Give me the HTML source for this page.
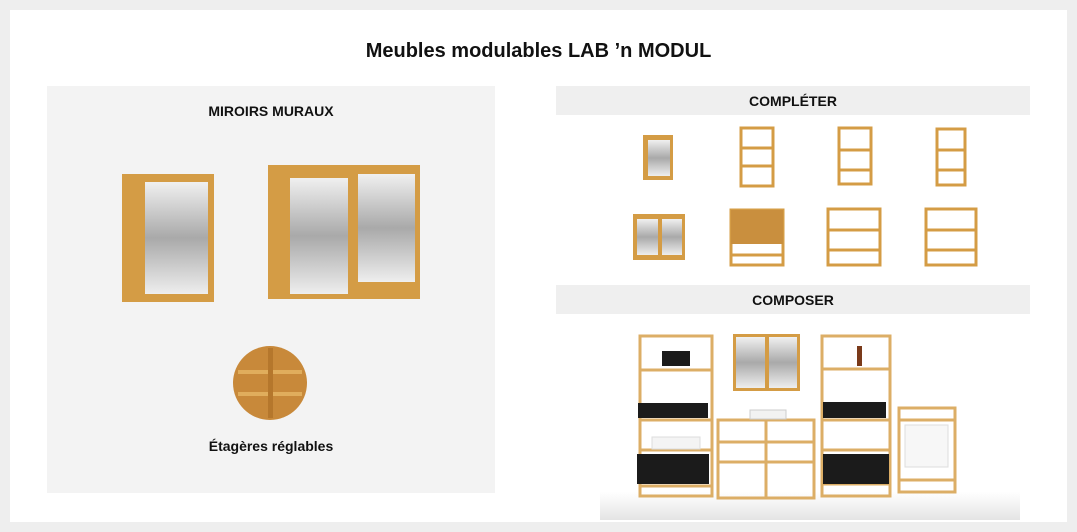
<!DOCTYPE html>
<html><head><meta charset="utf-8"><style>
body{margin:0;width:1077px;height:532px;background:#eeeeee;font-family:"Liberation Sans",sans-serif;overflow:hidden}
.card{position:absolute;left:10px;top:10px;width:1057px;height:512px;background:#fff}
.t{position:absolute;font-weight:bold;color:#111;text-align:center}
</style></head><body>
<div class="card"></div>
<div class="t" style="left:0;width:1077px;top:40px;font-size:20px">Meubles modulables LAB ’n MODUL</div>
<div style="position:absolute;left:47px;top:86px;width:448px;height:407px;background:#f3f3f3"></div>
<div class="t" style="left:47px;width:448px;top:103px;font-size:14px">MIROIRS MURAUX</div>
<div class="t" style="left:47px;width:448px;top:438px;font-size:14px">Étagères réglables</div>
<div style="position:absolute;left:556px;top:86px;width:474px;height:29px;background:#efefef"></div>
<div class="t" style="left:556px;width:474px;top:93px;font-size:14px">COMPLÉTER</div>
<div style="position:absolute;left:556px;top:285px;width:474px;height:29px;background:#efefef"></div>
<div class="t" style="left:556px;width:474px;top:292px;font-size:14px">COMPOSER</div>
<svg width="1077" height="532" style="position:absolute;left:0;top:0">
<defs>
<linearGradient id="m" x1="0" y1="0" x2="0" y2="1"><stop offset="0" stop-color="#f0f0f0"/><stop offset=".5" stop-color="#a9a9a9"/><stop offset="1" stop-color="#eeeeee"/></linearGradient>
<linearGradient id="fl" x1="0" y1="0" x2="0" y2="1"><stop offset="0" stop-color="#fff"/><stop offset="1" stop-color="#e4e4e4"/></linearGradient>
</defs>
<g fill="#d49c45">
<!-- small cabinet -->
<rect x="122" y="174" width="92" height="128"/>
<rect x="145" y="182" width="63" height="112" fill="url(#m)"/>
<!-- big cabinet -->
<rect x="268" y="165" width="152" height="134"/>
<rect x="290" y="178" width="58" height="116" fill="url(#m)"/>
<rect x="358" y="174" width="57" height="108" fill="url(#m)"/>
<!-- shelves circle -->
<circle cx="270" cy="383" r="37" fill="#c8893a"/>
<rect x="238" y="370" width="64" height="4" fill="#e0ad5c"/>
<rect x="238" y="392" width="64" height="4" fill="#e0ad5c"/>
<rect x="268" y="348" width="5" height="70" fill="#b5772c"/>
<!-- completer row 1 -->
<rect x="643" y="135" width="30" height="45"/><rect x="648" y="140" width="22" height="36" fill="url(#m)"/>
<g fill="none" stroke="#d49c45" stroke-width="3">
<rect x="741" y="128" width="32" height="58"/><line x1="741" y1="148" x2="773" y2="148"/><line x1="741" y1="166" x2="773" y2="166"/>
<rect x="839" y="128" width="32" height="56"/><line x1="839" y1="150" x2="871" y2="150"/><line x1="839" y1="170" x2="871" y2="170"/>
<rect x="937" y="129" width="28" height="56"/><line x1="937" y1="150" x2="965" y2="150"/><line x1="937" y1="170" x2="965" y2="170"/>
<!-- row 2 -->
<rect x="828" y="209" width="52" height="56"/><line x1="828" y1="230" x2="880" y2="230"/><line x1="828" y1="250" x2="880" y2="250"/>
<rect x="926" y="209" width="50" height="56"/><line x1="926" y1="230" x2="976" y2="230"/><line x1="926" y1="250" x2="976" y2="250"/>
<rect x="731" y="210" width="52" height="55"/><line x1="731" y1="255" x2="783" y2="255"/>
</g>
<rect x="633" y="214" width="52" height="46"/><rect x="637" y="219" width="21" height="36" fill="url(#m)"/><rect x="662" y="219" width="20" height="36" fill="url(#m)"/>
<rect x="731" y="210" width="52" height="34" fill="#c98f3e"/>
<!-- composer -->
<rect x="600" y="492" width="420" height="28" fill="url(#fl)"/>
<g fill="none" stroke="#dcae66" stroke-width="3">
<rect x="640" y="336" width="72" height="160"/><line x1="640" y1="370" x2="712" y2="370"/><line x1="640" y1="420" x2="712" y2="420"/><line x1="640" y1="450" x2="712" y2="450"/><line x1="640" y1="486" x2="712" y2="486"/>
<rect x="718" y="420" width="96" height="78"/><line x1="766" y1="420" x2="766" y2="498"/><line x1="718" y1="442" x2="814" y2="442"/><line x1="718" y1="462" x2="814" y2="462"/>
<rect x="822" y="336" width="68" height="160"/><line x1="822" y1="369" x2="890" y2="369"/><line x1="822" y1="420" x2="890" y2="420"/><line x1="822" y1="450" x2="890" y2="450"/><line x1="822" y1="484" x2="890" y2="484"/>
<rect x="899" y="408" width="56" height="84"/><line x1="899" y1="420" x2="955" y2="420"/><line x1="899" y1="480" x2="955" y2="480"/>
</g>
<rect x="733" y="334" width="67" height="57"/><rect x="736" y="337" width="29" height="51" fill="url(#m)"/><rect x="769" y="337" width="28" height="51" fill="url(#m)"/>
<g fill="#1b1b1b">
<rect x="638" y="403" width="70" height="15"/><rect x="637" y="454" width="72" height="30"/>
<rect x="823" y="402" width="63" height="16"/><rect x="823" y="454" width="66" height="30"/>
<rect x="662" y="351" width="28" height="15"/>
</g>
<rect x="905" y="425" width="43" height="42" fill="#f7f7f7" stroke="#ddd"/>
<rect x="750" y="410" width="36" height="9" fill="#f2f2f2" stroke="#ccc"/>
<rect x="652" y="437" width="48" height="12" fill="#f4f4f4" stroke="#ddd"/>
<rect x="857" y="346" width="5" height="20" fill="#7a3a1a"/>
</g>
</svg>
</body></html>
